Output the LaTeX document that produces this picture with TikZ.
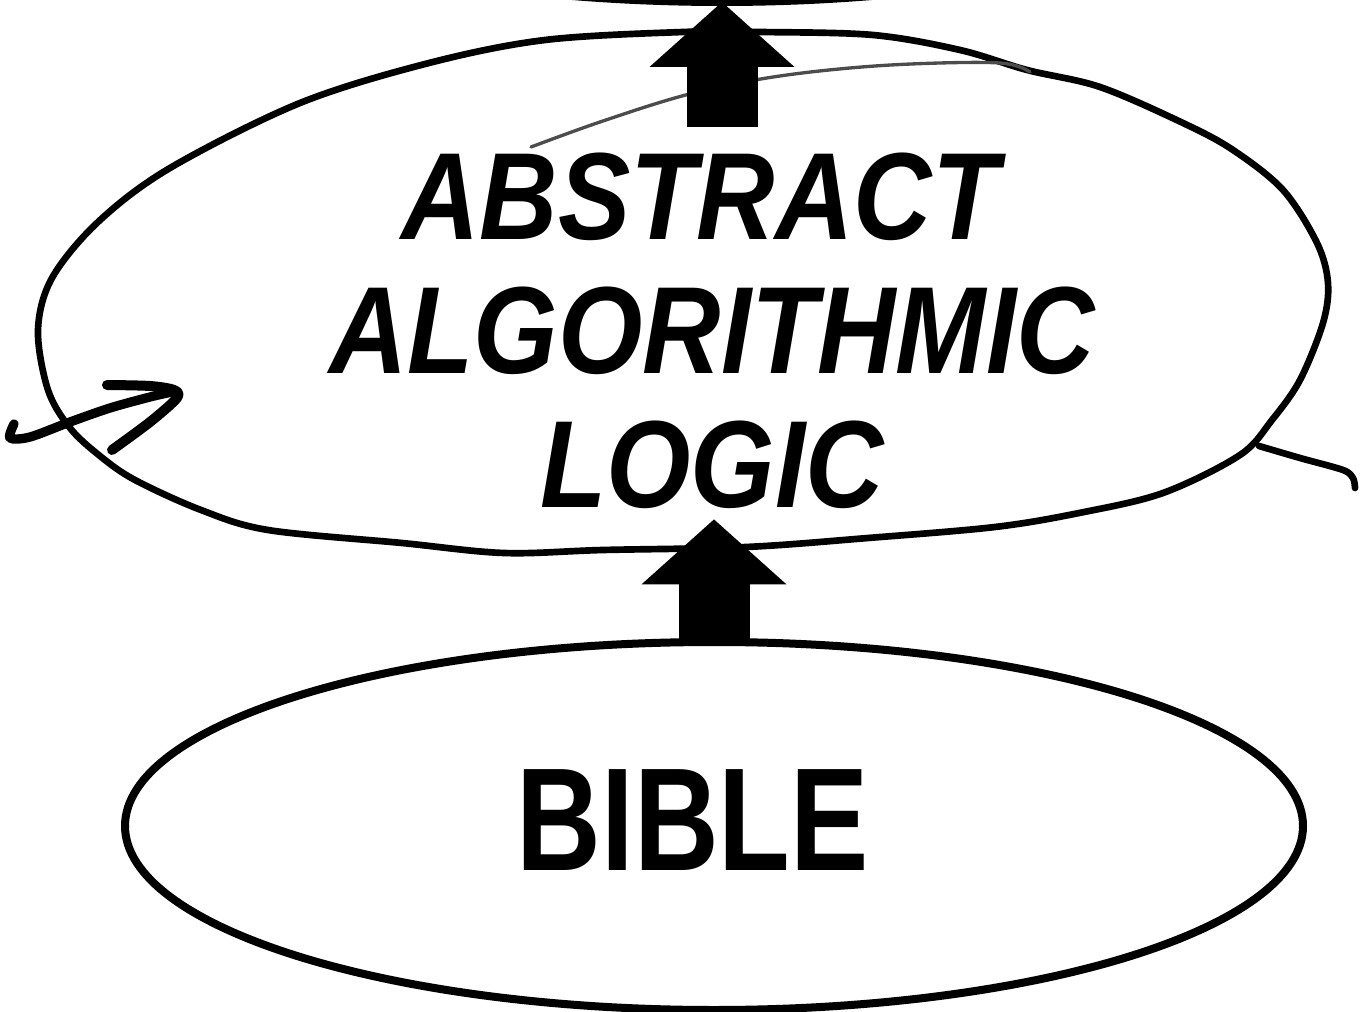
\documentclass[tikz,border=0pt]{standalone}
\usepackage{fontspec}
\usetikzlibrary{shapes.geometric,arrows.meta}
\newfontfamily\logicfont[FakeStretch=0.875]{Liberation Sans}
\newfontfamily\biblefont[FakeStretch=0.8]{Liberation Sans}
\tikzset{every picture/.style={line width=0.75pt}}
\tikzset{
  oval/.style={draw, ellipse, line width=6pt, minimum width=883.5pt, minimum height=276pt, inner sep=0pt, outer sep=0pt},
  blockup/.style={line width=53.25pt, -{Triangle[width=108.75pt,length=48.75pt,line width=0pt]}},
  pen/.style={line width=5pt, line cap=round, line join=round},
}

\begin{document}
\begin{tikzpicture}[x=0.75pt,y=0.75pt,yscale=-1,xscale=1]
\useasboundingbox (0,0) rectangle (1360,1012);
\clip (0,0) rectangle (1360,1012);

%Shape: Ellipse, cut by the top edge
\node[oval] (top) at (722,-182) {};
%Shape: Ellipse
\node[oval, label={[font=\biblefont\bfseries\fontsize{110}{110}\selectfont, xshift=-16pt, yshift=4.5pt]center:BIBLE}] (bible) at (714,826) {};

% Text Node
\node[align=center, inner sep=0pt, font=\logicfont\bfseries\itshape\fontsize{93}{100.5}\selectfont] (logic) at (712,331) {ABSTRACT\hspace*{18pt}\\ALGORITHMIC\\LOGIC};

%Shape: hand drawn loop
\draw[pen] plot[smooth cycle, tension=0.55] coordinates {(38,330) (52,278) (98,222) (170,168) (300,103) (429,63) (545,40) (683,32) (760,32) (873,35) (960,50) (1027,70) (1100,87) (1183,123) (1233,150) (1283,190) (1317,243) (1328,283) (1323,323) (1300,380) (1272,420) (1240,455) (1163,493) (1079,513) (995,527) (868,538) (746,547) (603,550) (504,553) (402,543) (268,530) (201,510) (135,480) (100,456) (70,428) (48,390)};
%Shape: thin stroke
\draw[pen, line width=2.5pt, black!70] plot[smooth, tension=0.6] coordinates {(531,147) (600,122) (682,96) (755,80) (829,70) (911,64) (1000,63) (1030,72)};
%Shape: left pointer
\draw[pen, line width=7pt] plot[smooth, tension=0.5] coordinates {(14,424) (10,438) (30,437) (70,422) (110,408) (150,397) (172,392)};
\draw[pen, line width=7.5pt] plot[smooth, tension=0.5] coordinates {(107,385) (150,386) (174,390) (177,398) (150,422) (112,450)};
%Shape: right tail
\draw[pen] plot[smooth, tension=0.5] coordinates {(1259,446) (1300,458) (1343,470) (1353,478) (1355,488)};

% Block arrows
\draw[blockup, shorten >=7.5pt] (bible.north) -- (bible.north |- logic.south);
\draw[blockup, shorten <=19pt] (top.south |- logic.north) -- (top.south);

\end{tikzpicture}
\end{document}
